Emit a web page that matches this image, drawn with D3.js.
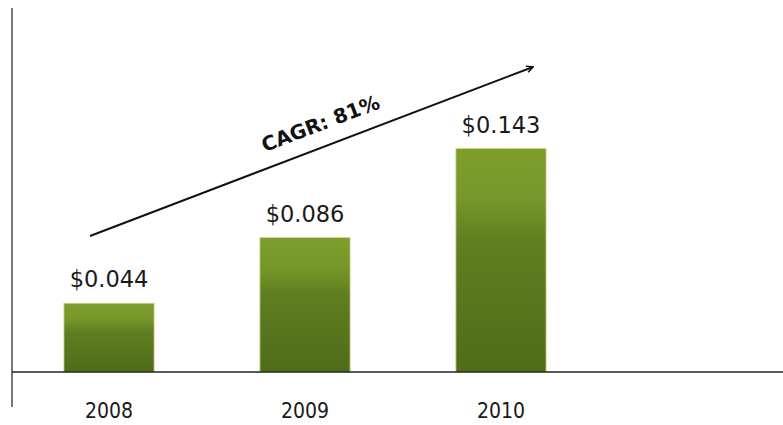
<!DOCTYPE html>
<html>
<head>
<meta charset="utf-8">
<script src="https://cdn.jsdelivr.net/npm/d3@7"></script>
<style>
  body { margin: 0; background: #fff; }
  svg { display: block; }
</style>
</head>
<body>
<svg id="grafico"></svg>
<script>
// dados
let anos = ["2008", "2009", "2010"];
let valores = [0.044, 0.086, 0.143];
let rotulos = ["$0.044", "$0.086", "$0.143"];
let cagrTexto = "CAGR: 81%";

let width = 783, height = 425;
let svg = d3.select("#grafico")
    .attr("width", width)
    .attr("height", height);

let eixoX0 = 12, baseY = 372;

let x = d3.scaleBand()
    .domain(anos)
    .range([eixoX0, 598])
    .paddingInner(0.54)
    .paddingOuter(0.265);

let y = d3.scaleLinear()
    .domain([0, 0.233])
    .range([baseY, 8]);

// degradê verde das barras
let defs = svg.append("defs");
let grad = defs.append("linearGradient")
    .attr("id", "verde")
    .attr("x1", 0).attr("y1", 0).attr("x2", 0).attr("y2", 1);
grad.append("stop").attr("offset", "0%").attr("stop-color", "#7d9d2c");
grad.append("stop").attr("offset", "22%").attr("stop-color", "#77972a");
grad.append("stop").attr("offset", "42%").attr("stop-color", "#5f7f20");
grad.append("stop").attr("offset", "100%").attr("stop-color", "#4f6c19");

let marker = defs.append("marker")
    .attr("id", "seta")
    .attr("viewBox", "0 0 10 10")
    .attr("refX", 9).attr("refY", 5)
    .attr("markerWidth", 8).attr("markerHeight", 8)
    .attr("markerUnits", "userSpaceOnUse")
    .attr("orient", "auto");
marker.append("path")
    .attr("d", "M1,1 L9,5 L1,9")
    .attr("fill", "none")
    .attr("stroke", "#111")
    .attr("stroke-width", 2);

// barras
svg.selectAll("rect.barra")
    .data(valores)
    .enter().append("rect")
    .attr("class", "barra")
    .attr("x", (d, i) => x(anos[i]))
    .attr("y", d => y(d))
    .attr("width", x.bandwidth())
    .attr("height", d => baseY - y(d))
    .attr("fill", "url(#verde)")
    .attr("stroke", "#c9d78f")
    .attr("stroke-width", 0.8);

// rótulos de valor
svg.selectAll("text.valor")
    .data(valores)
    .enter().append("text")
    .attr("class", "valor")
    .attr("x", (d, i) => x(anos[i]) + x.bandwidth() / 2)
    .attr("y", d => y(d) - 16)
    .attr("text-anchor", "middle")
    .attr("font-family", "DejaVu Sans")
    .attr("font-size", 22.5)
    .attr("fill", "#1a1a1a")
    .text((d, i) => rotulos[i]);

// eixos
svg.append("line")
    .attr("x1", eixoX0).attr("x2", eixoX0)
    .attr("y1", 8).attr("y2", 407)
    .attr("stroke", "#555").attr("stroke-width", 1.6);
svg.append("line")
    .attr("x1", eixoX0).attr("x2", width)
    .attr("y1", baseY).attr("y2", baseY)
    .attr("stroke", "#222").attr("stroke-width", 1.6);

svg.selectAll("text.ano")
    .data(anos)
    .enter().append("text")
    .attr("class", "ano")
    .attr("x", d => x(d) + x.bandwidth() / 2)
    .attr("y", 418)
    .attr("text-anchor", "middle")
    .attr("font-family", "DejaVu Sans Condensed")
    .attr("font-size", 21)
    .attr("fill", "#1a1a1a")
    .text(d => d);

// seta de crescimento
let p0 = [90, 236], p1 = [533, 67];
svg.append("line")
    .attr("x1", p0[0]).attr("y1", p0[1])
    .attr("x2", p1[0]).attr("y2", p1[1])
    .attr("stroke", "#111").attr("stroke-width", 2)
    .attr("marker-end", "url(#seta)");

let angulo = Math.atan2(p1[1] - p0[1], p1[0] - p0[0]) * 180 / Math.PI;
svg.append("text")
    .attr("transform", "translate(323,130) rotate(" + angulo + ")")
    .attr("text-anchor", "middle")
    .attr("font-family", "DejaVu Sans")
    .attr("font-weight", "bold")
    .attr("font-size", 20)
    .attr("fill", "#111")
    .text(cagrTexto);
</script>
</body>
</html>
